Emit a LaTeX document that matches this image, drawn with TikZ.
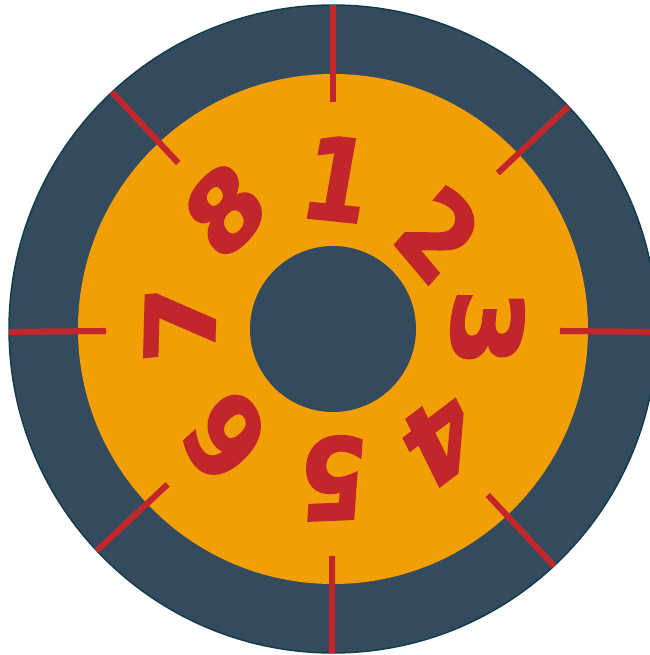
\documentclass[tikz,border=0pt]{standalone}
\usepackage{fontspec}
\usepackage{tikz}
\usetikzlibrary{calc}

\newfontfamily\digitfont[FakeBold=2.2]{DejaVu Sans}

\definecolor{dialslate}{HTML}{344B5E}
\definecolor{dialedge}{HTML}{0E3C4A}
\definecolor{dialorange}{HTML}{F29F05}
\definecolor{dialred}{HTML}{C1272A}

\begin{document}
\begin{tikzpicture}[x=0.025cm, y=0.025cm,
    digit/.style={text=dialred, font=\digitfont\bfseries\fontsize{80}{80}\selectfont, inner sep=0pt, xscale=0.85, xslant=0.12},
    tick/.style={draw=dialred, line width=4.3pt}]
			\useasboundingbox (-333,-326) rectangle (316,329);
			
			% rings
			\fill[dialslate, draw=dialedge, line width=1pt] (0,0) circle (324);
			\fill[dialorange] (0,0) circle (255);
			\fill[dialslate] (0,0) circle (83);
			
			% ticks
			\draw[tick] (90:227) -- (90:324);
			\draw[tick] (43.4:227) -- (43.4:324);
			\draw[tick] (-0.5:227) -- (-0.5:324);
			\draw[tick] (-47:227) -- (-47:324);
			\draw[tick] (-90.2:227) -- (-90.2:324);
			\draw[tick] (-136.8:227) -- (-136.8:324);
			\draw[tick] (180.5:227) -- (180.5:324);
			\draw[tick] (133:227) -- (133:324);
			
			% numbers
			\node[digit, rotate=-5] (d1) at (4,150) {1};
			\node[digit, rotate=-42] (d2) at (106,95) {2};
			\node[digit, rotate=-90] (d3) at (154,1) {3};
			\node[digit, rotate=-145] (d4) at (107,-111) {4};
			\node[digit, rotate=-178] (d5) at (0,-149) {5};
			\node[digit, rotate=-230] (d6) at (-108,-108) {6};
			\node[digit, rotate=95] (d7) at (-153,7) {7};
			\node[digit, rotate=45] (d8) at (-108,119) {8};
		\end{tikzpicture}
\end{document}
